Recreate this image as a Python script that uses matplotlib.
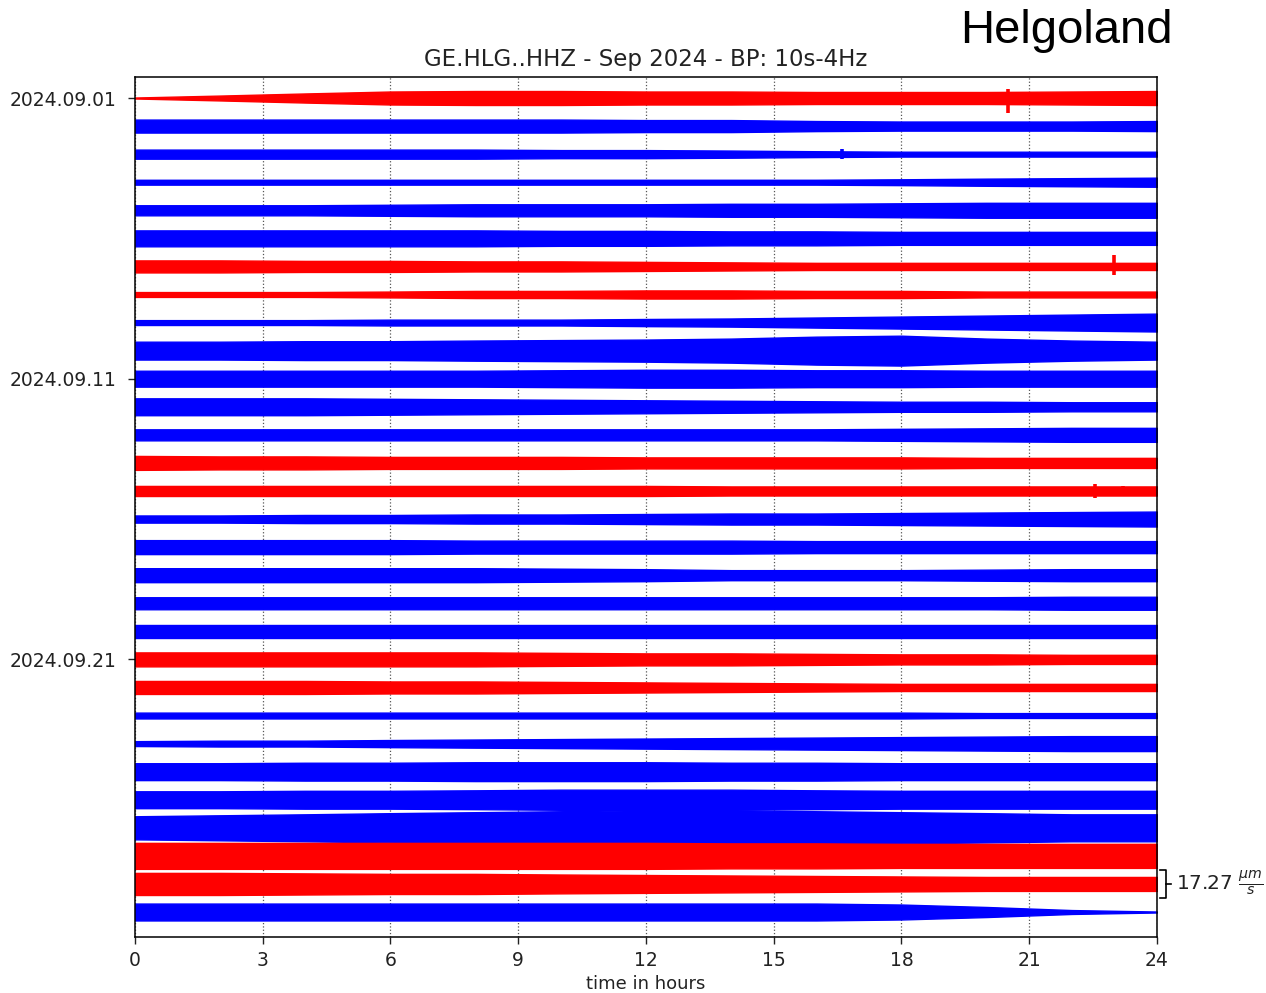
import matplotlib
matplotlib.use("Agg")
import matplotlib.pyplot as plt
import numpy as np

hours = [0, 2, 4, 6, 8, 10, 12, 14, 16, 18, 20, 22, 24]

# one row per day, Sep 1 .. Sep 30, half-width of the trace in um/s
amp = [
    [0.3, 1.5, 2.8, 4.0, 4.3, 4.3, 4.0, 4.0, 3.7, 3.7, 3.7, 4.0, 4.3],
    [4.0, 4.0, 4.0, 4.0, 4.0, 4.0, 3.7, 3.7, 3.1, 2.8, 2.8, 2.8, 3.1],
    [2.8, 2.8, 2.8, 2.8, 2.8, 2.5, 2.5, 2.2, 1.8, 1.5, 1.5, 1.5, 1.5],
    [1.5, 1.5, 1.5, 1.5, 1.5, 1.5, 1.5, 1.5, 1.5, 1.8, 2.2, 2.5, 2.8],
    [3.1, 3.1, 3.1, 3.4, 3.7, 3.7, 3.7, 4.0, 4.0, 4.3, 4.6, 4.6, 4.6],
    [4.9, 4.9, 4.9, 4.9, 4.9, 4.6, 4.6, 4.3, 4.3, 4.0, 4.0, 4.0, 4.0],
    [3.7, 3.7, 3.4, 3.4, 3.1, 3.1, 2.8, 2.5, 2.2, 2.2, 2.2, 2.2, 2.2],
    [1.5, 1.5, 1.5, 1.8, 2.2, 2.2, 2.5, 2.5, 2.2, 2.2, 1.8, 1.8, 1.8],
    [1.5, 1.5, 1.5, 1.8, 1.8, 1.8, 2.2, 2.5, 3.1, 3.7, 4.3, 4.9, 5.5],
    [5.5, 5.5, 5.8, 5.8, 6.2, 6.5, 6.8, 7.4, 8.6, 9.2, 7.4, 6.2, 5.5],
    [4.9, 4.9, 4.9, 4.9, 4.9, 5.2, 5.5, 5.5, 5.2, 5.2, 4.9, 4.9, 4.9],
    [5.2, 5.2, 5.2, 4.9, 4.6, 4.3, 4.0, 3.7, 3.4, 3.1, 3.1, 2.8, 2.8],
    [3.4, 3.4, 3.4, 3.4, 3.4, 3.4, 3.4, 3.4, 3.4, 3.7, 4.0, 4.3, 4.3],
    [4.3, 4.0, 4.0, 3.7, 3.7, 3.7, 3.4, 3.4, 3.4, 3.4, 3.1, 3.1, 3.1],
    [3.1, 3.1, 3.1, 3.1, 3.1, 3.1, 3.1, 2.8, 2.8, 2.8, 2.8, 2.8, 2.8],
    [2.2, 2.2, 2.5, 2.5, 2.8, 2.8, 3.1, 3.4, 3.4, 3.7, 4.0, 4.3, 4.6],
    [4.3, 4.3, 4.3, 4.3, 4.0, 4.0, 4.0, 4.0, 3.7, 3.7, 3.7, 3.7, 3.7],
    [4.3, 4.3, 4.3, 4.3, 4.3, 4.0, 3.7, 3.1, 3.1, 3.1, 3.4, 3.7, 3.7],
    [3.7, 3.7, 3.7, 3.7, 3.7, 3.7, 3.7, 3.7, 3.7, 3.7, 3.7, 4.0, 4.0],
    [4.0, 4.0, 4.0, 4.0, 4.0, 4.0, 4.0, 4.0, 4.0, 4.0, 4.0, 4.0, 4.0],
    [4.3, 4.3, 4.3, 4.3, 4.3, 4.0, 3.7, 3.7, 3.4, 3.1, 3.1, 2.8, 2.8],
    [4.0, 4.0, 4.0, 3.7, 3.7, 3.4, 3.1, 2.8, 2.5, 2.2, 2.2, 2.2, 2.2],
    [1.8, 1.8, 1.8, 1.8, 1.8, 1.8, 1.8, 1.8, 1.8, 1.8, 1.5, 1.5, 1.5],
    [1.5, 1.8, 1.8, 2.2, 2.5, 2.8, 3.1, 3.4, 3.7, 4.0, 4.3, 4.6, 4.6],
    [5.2, 5.2, 5.5, 5.5, 5.8, 5.8, 5.8, 5.5, 5.5, 5.2, 5.2, 5.2, 5.2],
    [5.2, 5.2, 5.5, 5.5, 5.8, 6.2, 6.2, 6.2, 5.8, 5.5, 5.5, 5.5, 5.5],
    [7.1, 7.7, 8.3, 9.0, 9.6, 10.2, 10.8, 10.8, 10.2, 9.6, 9.0, 8.3, 8.3],
    [8.0, 8.0, 8.0, 8.0, 8.0, 8.0, 8.0, 7.7, 7.7, 7.4, 7.4, 7.4, 7.4],
    [6.8, 6.8, 6.5, 6.2, 6.2, 5.8, 5.5, 5.2, 4.9, 4.6, 4.3, 4.3, 4.3],
    [5.2, 5.2, 5.2, 5.2, 5.2, 5.2, 5.2, 5.2, 5.2, 4.6, 3.1, 1.2, 0.3],
]

# weekend days in red
red_days = [1, 7, 8, 14, 15, 21, 22, 28, 29]

# single events (day, hour, extent up / down in um/s)
ev_day = [1, 3, 7, 15, 15]
ev_hour = [20.5, 16.6, 23.0, 22.55, 23.2]
ev_up = [5.5, 3.0, 6.8, 4.1, 3.1]
ev_down = [9.2, 3.0, 5.5, 4.1, 3.1]

scale = 17.27  # um/s between two rows

fig = plt.figure(figsize=(12.66, 9.93), dpi=100)
ax = fig.add_axes([0.1066, 0.0564, 0.8073, 0.8661])

for i, a in enumerate(amp):
    day = i + 1
    c = "#ff0000" if day in red_days else "#0000ff"
    a = np.array(a) / scale
    ax.fill_between(hours, i - a, i + a, color=c, lw=1.0)

for d, h, u, dn in zip(ev_day, ev_hour, ev_up, ev_down):
    c = "#ff0000" if d in red_days else "#0000ff"
    ax.vlines(h, d - 1 - u / scale, d - 1 + dn / scale, color=c, lw=2.6)

ax.set_xlim(0, 24)
ax.set_ylim(29.89, -0.75)
ax.set_xticks(range(0, 25, 3))
ax.set_yticks([0, 10, 20])
ax.set_yticklabels(["2024.09.01", "2024.09.11", "2024.09.21"])
ax.tick_params(labelsize=13.5, length=5, width=1.0, pad=5, colors="#222222")
ax.tick_params(axis="y", pad=8)
for s in ax.spines.values():
    s.set_linewidth(1.1)
ax.grid(axis="x", ls=":", color="#555555", lw=0.9)
ax.set_axisbelow(True)
ax.set_xlabel("time in hours", fontsize=13, labelpad=4, color="#222222")
ax.set_title("GE.HLG..HHZ - Sep 2024 - BP: 10s-4Hz", fontsize=16.5, pad=8,
             color="#222222")

# scale bar
ax.plot([24.07, 24.22, 24.22, 24.07], [27.5, 27.5, 28.5, 28.5],
        color="black", lw=1.2, clip_on=False)
ax.plot([24.22, 24.32], [28, 28], color="black", lw=1.2, clip_on=False)
ax.text(24.45, 28, r"17.27 $\frac{\mu m}{s}$", fontsize=14.5, va="center",
        ha="left", color="#222222")

fig.text(0.842, 0.969, "Helgoland", fontsize=34, family="Liberation Sans",
         ha="center", va="center")

fig.savefig("out.png", dpi=100)
